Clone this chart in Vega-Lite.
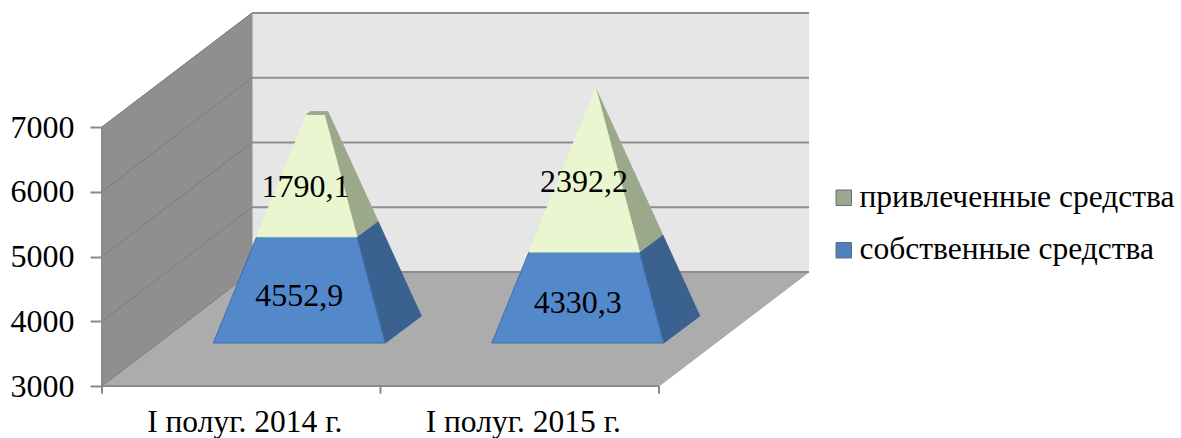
{
"$schema":"https://vega.github.io/schema/vega-lite/v6.json",
"width":1079,"height":386,
"autosize":{"type":"none"},
"padding":{"left":102,"top":0,"right":0,"bottom":52},
"background":"white",
"config":{"view":{"stroke":null},"font":"Liberation Serif"},
"datasets":{
"pyramid":[
{"period":"I полуг. 2014 г.","slot":0,"series":"собственные средства","value":4552.9},
{"period":"I полуг. 2014 г.","slot":0,"series":"привлеченные средства","value":1790.1},
{"period":"I полуг. 2015 г.","slot":1,"series":"собственные средства","value":4330.3},
{"period":"I полуг. 2015 г.","slot":1,"series":"привлеченные средства","value":2392.2}
],
"ticks":[{"tick":3000},{"tick":4000},{"tick":5000},{"tick":6000},{"tick":7000}],
"categoryTicks":[{"across":0},{"across":1},{"across":2}],
"floor":[{"c":0,"across":0,"deep":0},{"c":1,"across":2,"deep":0},{"c":2,"across":2,"deep":1},{"c":3,"across":0,"deep":1}],
"sideWall":[{"c":0,"deep":0,"tick":3000},{"c":1,"deep":1,"tick":3000},{"c":2,"deep":1,"tick":7000},{"c":3,"deep":0,"tick":7000}]
},
"encoding":{
"x":{"field":"px","type":"quantitative","scale":{"domain":[0,3.8743],"nice":false,"zero":false},
"axis":{"title":null,"values":[0.5,1.5],"ticks":false,"domain":false,"grid":false,"labelFontSize":31.5,"labelFont":"Liberation Serif","labelColor":"#000","labelPadding":36,"labelOffset":3,"labelBaseline":"middle","labelLimit":400,"labelOverlap":false,
"labelExpr":"datum.value==0.5?'I полуг. 2014 г.':'I полуг. 2015 г.'"}},
"y":{"field":"py","type":"quantitative","scale":{"domain":[3000,8961.4],"nice":false,"zero":false},
"axis":{"title":null,"values":[3000,4000,5000,6000,7000],"domain":false,"grid":false,"tickColor":"#8a8a8a","tickSize":12,"tickWidth":2,"labelFontSize":32,"labelFont":"Liberation Serif","labelColor":"#000","labelPadding":16,"format":"d"}}
},
"layer":[
{"data":{"name":"ticks"},"transform":[{"filter":"datum.tick==3000"},{"calculate":"0.5386","as":"px"},{"calculate":"4760.6","as":"py"}],
"mark":{"type":"rect","fill":"#e6e6e6"},
"encoding":{"x2":{"datum":2.5386},"y2":{"datum":8760.6}}},
{"data":{"name":"sideWall"},"transform":[{"calculate":"datum.deep*0.5386","as":"px"},{"calculate":"datum.tick+datum.deep*1760.6","as":"py"}],
"mark":{"type":"line","fill":"#8f8f8f","stroke":"#8f8f8f","strokeWidth":1},
"encoding":{"order":{"field":"c"}}},
{"data":{"name":"floor"},"transform":[{"calculate":"datum.across+datum.deep*0.5386","as":"px"},{"calculate":"3000+datum.deep*1760.6","as":"py"}],
"mark":{"type":"line","fill":"#acacac","stroke":"#acacac","strokeWidth":1},
"encoding":{"order":{"field":"c"}}},
{"data":{"name":"ticks"},"transform":[{"calculate":"0.5386","as":"px"},{"calculate":"datum.tick+1760.6","as":"py"}],
"mark":{"type":"rule","stroke":"#8e8e8e","strokeWidth":2},
"encoding":{"x2":{"datum":2.5386}}},
{"data":{"name":"ticks"},"transform":[{"calculate":"0","as":"px"},{"calculate":"datum.tick","as":"py"},{"calculate":"0.5386","as":"qx"},{"calculate":"datum.tick+1760.6","as":"qy"}],
"mark":{"type":"rule","stroke":"#7d7d7d","strokeWidth":1},
"encoding":{"x2":{"field":"qx"},"y2":{"field":"qy"}}},
{"data":{"name":"categoryTicks"},"transform":[{"calculate":"datum.across","as":"px"},{"calculate":"3000","as":"py"},{"calculate":"2880","as":"qy"}],
"mark":{"type":"rule","stroke":"#8a8a8a","strokeWidth":2},
"encoding":{"y2":{"field":"qy"}}},
{"data":{"name":"ticks"},"transform":[{"filter":"datum.tick==3000"},{"calculate":"0","as":"px"},{"calculate":"3000","as":"py"}],
"mark":{"type":"rule","stroke":"#8a8a8a","strokeWidth":2},
"encoding":{"x2":{"datum":2},"y2":{"datum":3000}}},
{"data":{"name":"ticks"},"transform":[{"filter":"datum.tick==3000"},{"calculate":"0","as":"px"},{"calculate":"3000","as":"py"}],
"mark":{"type":"rule","stroke":"#8a8a8a","strokeWidth":2},
"encoding":{"x2":{"datum":0},"y2":{"datum":7000}}},
{"data":{"name":"pyramid"},"transform":[
{"stack":"value","groupby":["slot"],"sort":[{"field":"series","order":"descending"}],"as":["s0","s1"]},
{"calculate":"max(datum.s0,3000)","as":"base"},
{"calculate":"['side','front','top']","as":"faces"},
{"flatten":["faces"],"as":["face"]},
{"filter":"datum.face!='top'||datum.series=='привлеченные средства'"},
{"calculate":"[0,1,2,3,4]","as":"verts"},
{"flatten":["verts"],"as":["i"]},
{"calculate":"datum.i%4","as":"j"},
{"calculate":"datum.face=='top'||datum.j>=2?datum.s1:datum.base","as":"level"},
{"calculate":"1-(datum.level-3000)/3722.5","as":"k"},
{"calculate":"datum.face=='front'?((datum.j==0||datum.j==3)?'FL':'FR'):datum.face=='side'?((datum.j==0||datum.j==3)?'FR':'BR'):['FL','FR','BR','BL'][datum.j]","as":"corner"},
{"calculate":"datum.corner=='FL'?-0.3734:datum.corner=='FR'?0.244:datum.corner=='BR'?0.3734:-0.244","as":"cx"},
{"calculate":"datum.slot+0.773+datum.k*datum.cx","as":"px"},
{"calculate":"datum.level+872.6+datum.k*((datum.corner=='FL'||datum.corner=='FR')?-208.5:208.5)","as":"py"},
{"calculate":"datum.series+'|'+datum.face","as":"shade"},
{"calculate":"datum.slot+'|'+datum.shade","as":"piece"}
],
"mark":{"type":"line","strokeWidth":1},
"encoding":{
"detail":{"field":"piece"},
"order":{"field":"i"},
"fill":{"field":"shade","type":"nominal","legend":null,"scale":{
"domain":["собственные средства|front","собственные средства|side","привлеченные средства|front","привлеченные средства|side","привлеченные средства|top"],
"range":["#5388cb","#3a618f","#e9f6cf","#9ca88a","#a0a886"]}},
"stroke":{"field":"shade","type":"nominal","legend":null,"scale":{
"domain":["собственные средства|front","собственные средства|side","привлеченные средства|front","привлеченные средства|side","привлеченные средства|top"],
"range":["#3f6ea8","#3a618f","#e9f6cf","#9ca88a","#a0a886"]}}
}},
{"data":{"name":"pyramid"},"transform":[
{"stack":"value","groupby":["slot"],"sort":[{"field":"series","order":"descending"}],"as":["s0","s1"]},
{"calculate":"(max(datum.s0,3000)+datum.s1)/2","as":"py"},
{"calculate":"datum.slot+(datum.series=='собственные средства'?0.708:0.731)","as":"px"},
{"calculate":"replace(format(datum.value,'.1f'),'.',',')","as":"label"}
],
"mark":{"type":"text","font":"Liberation Serif","fontSize":32,"color":"#000","align":"center","baseline":"middle","dy":-40},
"encoding":{"text":{"field":"label"}}},
{"data":{"name":"pyramid"},"transform":[{"filter":"false"}],
"mark":{"type":"point","filled":true,"shape":"square"},
"encoding":{"color":{"field":"series","type":"nominal",
"scale":{"domain":["привлеченные средства","собственные средства"],"range":["#9ca88a","#4f81bd"]},
"legend":{"title":null,"orient":"none","legendX":726,"legendY":182,"symbolType":"square","symbolSize":240,"symbolStrokeColor":"#5f6f7f","symbolStrokeWidth":1,"labelFont":"Liberation Serif","labelFontSize":31.5,"labelColor":"#000","labelLimit":400,"rowPadding":19.5,"labelOffset":0,"symbolOpacity":1}}}}
]
}
